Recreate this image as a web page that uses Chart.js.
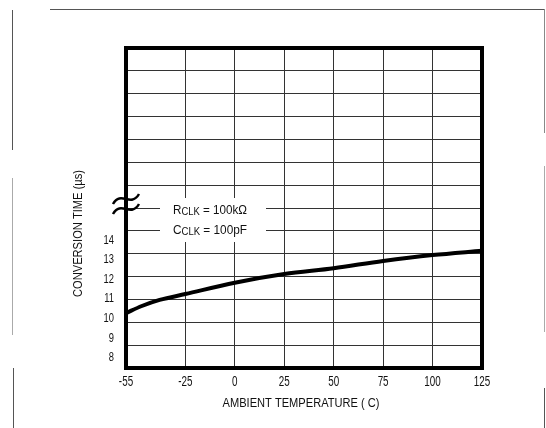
<!DOCTYPE html>
<html><head><meta charset="utf-8">
<script src="https://cdn.jsdelivr.net/npm/chart.js@4.4.0/dist/chart.umd.min.js"></script>
<style>html,body{margin:0;padding:0;background:#fff}#wrap{width:546px;height:428px;position:relative}</style>
</head><body><div id="wrap"><canvas id="c" width="546" height="428"></canvas></div>
<script>
const temperatures = [-55, -47, -38, -25, 0, 25, 50, 75, 100, 125];
const conversionTimes = [10.27, 10.63, 10.94, 11.24, 11.82, 12.26, 12.56, 12.93, 13.23, 13.45];
const xTickValues = [-55, -25, 0, 25, 50, 75, 100, 125];
const yTickValues = [8, 9, 10, 11, 12, 13, 14];
const xTitle = 'AMBIENT TEMPERATURE ( C)';
const yTitle = 'CONVERSION TIME (µs)';
const noteLines = [['R', 'CLK', ' = 100kΩ'], ['C', 'CLK', ' = 100pF']];

const FONT = "'Liberation Sans', Arial, sans-serif";
const INK = '#111';

function drawText(ctx, text, x, y, size, sx, align, rot) {
  ctx.save();
  ctx.font = size + 'px ' + FONT;
  ctx.fillStyle = INK;
  ctx.textBaseline = 'middle';
  ctx.textAlign = align;
  ctx.translate(x, y);
  if (rot) ctx.rotate(rot);
  ctx.scale(sx, 1);
  ctx.fillText(text, 0, 0);
  ctx.restore();
}
function fitScale(ctx, text, size, width) {
  ctx.save();
  ctx.font = size + 'px ' + FONT;
  const w = ctx.measureText(text).width;
  ctx.restore();
  return width / w;
}

const decor = {
  id: 'decor',
  beforeDatasetsDraw(chart) {
    const ctx = chart.ctx;
    ctx.save();
    ctx.fillStyle = '#fff';
    ctx.fillRect(160, 198, 106, 44);
    ctx.fillStyle = INK;
    ctx.textBaseline = 'alphabetic';
    noteLines.forEach((ln, i) => {
      const base = 214 + i * 20;
      ctx.font = '13px ' + FONT;
      const w0 = ctx.measureText(ln[0]).width, w2 = ctx.measureText(ln[2]).width;
      ctx.font = '10.5px ' + FONT;
      const w1 = ctx.measureText(ln[1]).width;
      const sx = 74 / (w0 + w1 + w2);
      ctx.save();
      ctx.translate(173, base);
      ctx.scale(sx, 1);
      ctx.font = '13px ' + FONT;
      ctx.fillText(ln[0], 0, 0);
      ctx.font = '10.5px ' + FONT;
      ctx.fillText(ln[1], w0, 1);
      ctx.font = '13px ' + FONT;
      ctx.fillText(ln[2], w0 + w1, 0);
      ctx.restore();
    });
    ctx.restore();
  },
  afterDraw(chart) {
    const { ctx, chartArea: a, scales } = chart;
    ctx.save();
    ctx.strokeStyle = '#000';
    ctx.lineWidth = 4;
    ctx.strokeRect(a.left, a.top, a.right - a.left, a.bottom - a.top);
    ctx.lineWidth = 2.5;
    [199, 209].forEach(y => {
      const x0 = a.left - 13;
      ctx.beginPath();
      ctx.moveTo(x0, y + 5);
      ctx.bezierCurveTo(x0 + 8, y - 9, x0 + 18, y + 9, x0 + 26, y - 5);
      ctx.stroke();
    });
    ctx.restore();
    xTickValues.forEach(v => {
      drawText(ctx, String(v), scales.x.getPixelForValue(v), 382, 14.5, 0.68, 'center');
    });
    yTickValues.forEach(v => {
      drawText(ctx, String(v), 114, scales.y.getPixelForValue(v), 13, 0.72, 'right');
    });
    drawText(ctx, xTitle, 301, 403, 13, fitScale(ctx, xTitle, 13, 157), 'center');
    drawText(ctx, yTitle, 78, 233.5, 13, fitScale(ctx, yTitle, 13, 127), 'center', -Math.PI / 2);
    ctx.save();
    ctx.lineWidth = 1;
    const seg = (x1, y1, x2, y2, c) => { ctx.strokeStyle = c; ctx.beginPath(); ctx.moveTo(x1, y1); ctx.lineTo(x2, y2); ctx.stroke(); };
    seg(50, 9.5, 545, 9.5, '#555');
    seg(12.5, 10, 12.5, 150, '#555');
    seg(12.5, 178, 12.5, 335, '#aaa');
    seg(13.5, 368, 13.5, 428, '#555');
    seg(544.5, 9, 544.5, 133, '#888');
    seg(544.5, 166, 544.5, 332, '#aaa');
    seg(544.5, 388, 544.5, 428, '#555');
    ctx.restore();
  }
};

new Chart(document.getElementById('c'), {
  type: 'line',
  data: {
    datasets: [{
      data: temperatures.map((t, i) => ({ x: t, y: conversionTimes[i] })),
      borderColor: '#000',
      borderWidth: 4,
      pointRadius: 0,
      cubicInterpolationMode: 'monotone',
      yAxisID: 'y'
    }]
  },
  options: {
    responsive: false,
    animation: false,
    layout: { padding: { left: 95, right: 64, top: 48, bottom: 13 } },
    plugins: { legend: { display: false }, tooltip: { enabled: false }, title: { display: false } },
    scales: {
      x: {
        type: 'linear', min: -55, max: 125,
        afterBuildTicks: s => { s.ticks = xTickValues.map(v => ({ value: v })); },
        grid: { color: '#333', lineWidth: 1, drawTicks: false },
        border: { display: false },
        ticks: { display: false },
        afterFit: s => { s.height = 47; }
      },
      y: {
        type: 'linear', position: 'left', min: 7.464, max: 23.806,
        afterBuildTicks: s => { s.ticks = yTickValues.map(v => ({ value: v })); },
        grid: { display: false, drawTicks: false },
        border: { display: false },
        ticks: { display: false },
        afterFit: s => { s.width = 31; }
      },
      yg: {
        type: 'linear', position: 'left', min: 0, max: 14,
        ticks: { display: false, stepSize: 1 },
        grid: { color: '#333', lineWidth: 1, drawTicks: false },
        border: { display: false },
        afterFit: s => { s.width = 0; }
      }
    }
  },
  plugins: [decor]
});
</script>
</body></html>
